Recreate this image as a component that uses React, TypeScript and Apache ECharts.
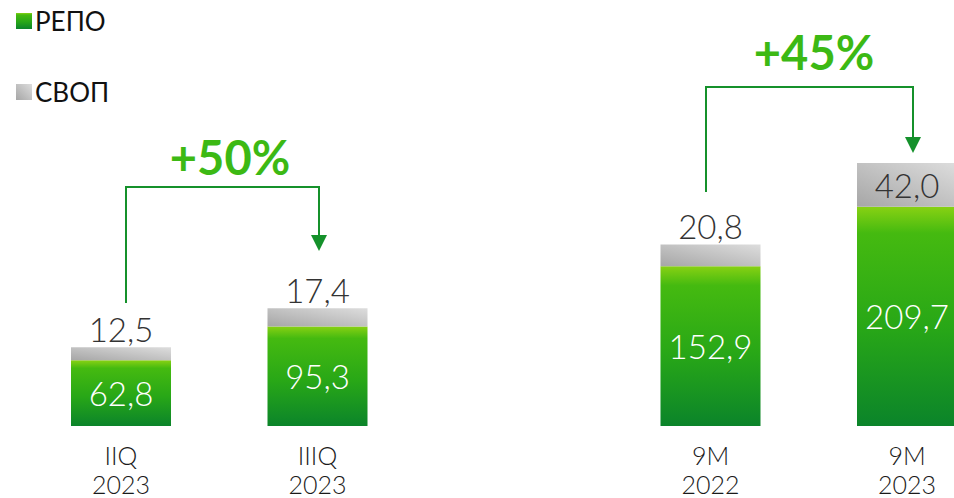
import React, { useEffect, useRef } from "react";
import * as echarts from "echarts";

const categories = ["IIQ\n2023", "IIIQ\n2023", "", "9M\n2022", "9M\n2023"];
const repoValues: (number | null)[] = [62.8, 95.3, null, 152.9, 209.7];
const swapValues: (number | null)[] = [12.5, 17.4, null, 20.8, 42.0];
const seriesNames = ["РЕПО", "СВОП"];
const growthLabels = ["+50%", "+45%"];

const FONT = "Lato, 'Noto Sans', sans-serif";

export default function App() {
  const ref = useRef<HTMLDivElement>(null);
  useEffect(() => {
    if (!ref.current) return;
    const chart = echarts.init(ref.current, undefined, { renderer: "svg" });
    const green = new echarts.graphic.LinearGradient(0, 0, 0, 1, [
      { offset: 0, color: "#88d113" },
      { offset: 0.12, color: "#45ba10" },
      { offset: 0.55, color: "#28a717" },
      { offset: 1, color: "#0b842a" },
    ]);
    const gray = new echarts.graphic.LinearGradient(0, 1, 1, 0, [
      { offset: 0, color: "#a6a6a6" },
      { offset: 1, color: "#dddddd" },
    ]);
    const arrowColor = "#15912b";
    const pctColor = "#3cb914";
    const swapData = swapValues.map((v, i) =>
      i === swapValues.length - 1
        ? { value: v, label: { position: "inside" } }
        : v
    );
    chart.setOption({
      animation: false,
      textStyle: { fontFamily: FONT },
      legend: {
        orient: "vertical",
        left: 11,
        top: 3,
        itemWidth: 16,
        itemHeight: 16,
        itemGap: 45,
        icon: "rect",
        selectedMode: false,
        textStyle: { fontSize: 26, color: "#111", fontFamily: FONT, padding: [0, 0, 0, -2] },
        data: seriesNames,
      },
      grid: { left: 22.75, width: 982.5, top: 112.5, bottom: 70.5, containLabel: false },
      xAxis: {
        type: "category",
        data: categories,
        axisLine: { show: false },
        axisTick: { show: false },
        axisLabel: {
          fontSize: 25,
          lineHeight: 29,
          color: "#1a1a1a",
          margin: 14,
          fontFamily: FONT,
          fontWeight: 300,
          interval: 0,
        },
      },
      yAxis: { type: "value", min: 0, max: 300, show: false, splitLine: { show: false } },
      series: [
        {
          name: seriesNames[0],
          type: "bar",
          stack: "total",
          barWidth: 100,
          data: repoValues,
          itemStyle: { color: green },
          label: {
            show: true,
            position: "inside",
            color: "#ffffff",
            fontSize: 33,
            fontFamily: FONT,
            fontWeight: 300,
            formatter: (p: any) => String(p.value.toFixed(1)).replace(".", ","),
          },
        },
        {
          name: seriesNames[1],
          type: "bar",
          stack: "total",
          barWidth: 100,
          data: swapData,
          itemStyle: { color: gray },
          label: {
            show: true,
            position: "top",
            distance: 2,
            color: "#333333",
            fontSize: 33,
            fontFamily: FONT,
            fontWeight: 300,
            formatter: (p: any) => String(Number(p.value).toFixed(1)).replace(".", ","),
          },
        },
      ],
      graphic: [
        {
          type: "polyline",
          shape: { points: [[126, 303], [126, 187], [319, 187], [319, 237]] },
          style: { stroke: arrowColor, lineWidth: 2, fill: null },
        },
        {
          type: "polygon",
          shape: { points: [[311, 235], [327, 235], [319, 251]] },
          style: { fill: arrowColor },
        },
        {
          type: "text",
          x: 230,
          y: 157,
          style: {
            text: growthLabels[0],
            fill: pctColor,
            fontSize: 47,
            fontWeight: "bold",
            fontFamily: FONT,
            align: "center",
            verticalAlign: "middle",
          },
        },
        {
          type: "polyline",
          shape: { points: [[706, 192], [706, 87], [913, 87], [913, 139]] },
          style: { stroke: arrowColor, lineWidth: 2, fill: null },
        },
        {
          type: "polygon",
          shape: { points: [[905, 137], [921, 137], [913, 153]] },
          style: { fill: arrowColor },
        },
        {
          type: "text",
          x: 814,
          y: 52,
          style: {
            text: growthLabels[1],
            fill: pctColor,
            fontSize: 47,
            fontWeight: "bold",
            fontFamily: FONT,
            align: "center",
            verticalAlign: "middle",
          },
        },
      ],
    });
    return () => chart.dispose();
  }, []);
  return (
    <div
      ref={ref}
      style={{ position: "fixed", left: 0, top: 0, width: 1006, height: 498, background: "#fff" }}
    />
  );
}
